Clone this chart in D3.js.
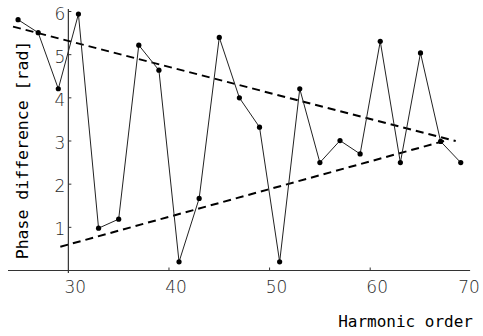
<!DOCTYPE html>
<html>
<head>
<meta charset="utf-8">
<script src="https://cdn.jsdelivr.net/npm/d3@7"></script>
<style>
  html, body { margin: 0; padding: 0; background: #fff; }
  svg { display: block; }
</style>
</head>
<body>
<svg id="chart" width="483" height="336"></svg>
<script>
// ---- data ----
const harmonics = [25,27,29,31,33,35,37,39,41,43,45,47,49,51,53,55,57,59,61,63,65,67,69];
const phase = [5.81,5.51,4.21,5.94,0.98,1.19,5.22,4.64,0.20,1.67,5.40,4.00,3.32,0.20,4.21,2.50,3.01,2.70,5.31,2.50,5.04,2.99,2.50];
const upperEnvX = [24.5, 68.5];
const upperEnvY = [5.65, 3.0];
const lowerEnvX = [29.2, 67.5];
const lowerEnvY = [0.55, 3.01];
const xTicks = [30, 40, 50, 60, 70];
const yTicks = [1, 2, 3, 4, 5, 6];
const xTitle = "Harmonic order";
const yTitle = "Phase difference [rad]";

// ---- drawing ----
const svg = d3.select("#chart");
const x = d3.scaleLinear().domain([24, 70]).range([8, 470.8]);
const y = d3.scaleLinear().domain([0, 6]).range([270.5, 11.5]);
const x0 = x(30); // y axis crosses at 30

// axes lines
svg.append("line").attr("x1", x(24)).attr("x2", x(69.93)).attr("y1", y(0)).attr("y2", y(0))
  .attr("stroke", "#333").attr("stroke-width", 1.2);
svg.append("line").attr("x1", x0).attr("x2", x0).attr("y1", y(6.06)).attr("y2", y(-0.06))
  .attr("stroke", "#333").attr("stroke-width", 1.2);

// x ticks
svg.selectAll(".xt").data(xTicks.filter(d => d !== 30 && d !== 70)).enter().append("line")
  .attr("x1", d => x(d)).attr("x2", d => x(d)).attr("y1", y(0)).attr("y2", y(0) - 3)
  .attr("stroke", "#333");
svg.selectAll(".xl").data(xTicks).enter().append("text")
  .attr("x", d => d === 70 ? x(d) + 9 : x(d) + 7)
  .attr("y", y(0) + 22)
  .attr("text-anchor", d => d === 70 ? "end" : "middle")
  .attr("font-family", "DejaVu Sans").attr("font-weight", 200)
  .attr("font-size", 17).attr("fill", "#2a2a2a")
  .text(d => d);

// y ticks
svg.selectAll(".yt").data(yTicks).enter().append("line")
  .attr("x1", x0).attr("x2", x0 + 3).attr("y1", d => y(d)).attr("y2", d => y(d))
  .attr("stroke", "#333");
svg.selectAll(".yl").data(yTicks).enter().append("text")
  .attr("x", x0 - 3).attr("y", d => y(d) + 8)
  .attr("text-anchor", "end")
  .attr("font-family", "DejaVu Sans").attr("font-weight", 200)
  .attr("font-size", 17).attr("fill", "#2a2a2a")
  .text(d => d);

// envelope dashed lines
const env = [[upperEnvX, upperEnvY], [lowerEnvX, lowerEnvY]];
env.forEach(([ex, ey]) => {
  svg.append("line")
    .attr("x1", x(ex[0])).attr("y1", y(ey[0]))
    .attr("x2", x(ex[1])).attr("y2", y(ey[1]))
    .attr("stroke", "#000").attr("stroke-width", 2)
    .attr("stroke-dasharray", "8,5");
});

// data line
const pts = harmonics.map((h, i) => [h, phase[i]]);
svg.append("path").datum(pts)
  .attr("d", d3.line().x(d => x(d[0])).y(d => y(d[1])))
  .attr("fill", "none").attr("stroke", "#222").attr("stroke-width", 1);
svg.selectAll(".pt").data(pts).enter().append("circle")
  .attr("cx", d => x(d[0])).attr("cy", d => y(d[1])).attr("r", 2.6)
  .attr("fill", "#000");

// titles
svg.append("text").attr("x", 473).attr("y", 327).attr("text-anchor", "end")
  .attr("font-family", "DejaVu Sans Mono").attr("font-size", 16).attr("fill", "#000")
  .text(xTitle);
svg.append("text")
  .attr("transform", "translate(28,150) rotate(-90)")
  .attr("text-anchor", "middle")
  .attr("font-family", "DejaVu Sans Mono").attr("font-size", 16.5).attr("fill", "#000")
  .text(yTitle);
</script>
</body>
</html>
